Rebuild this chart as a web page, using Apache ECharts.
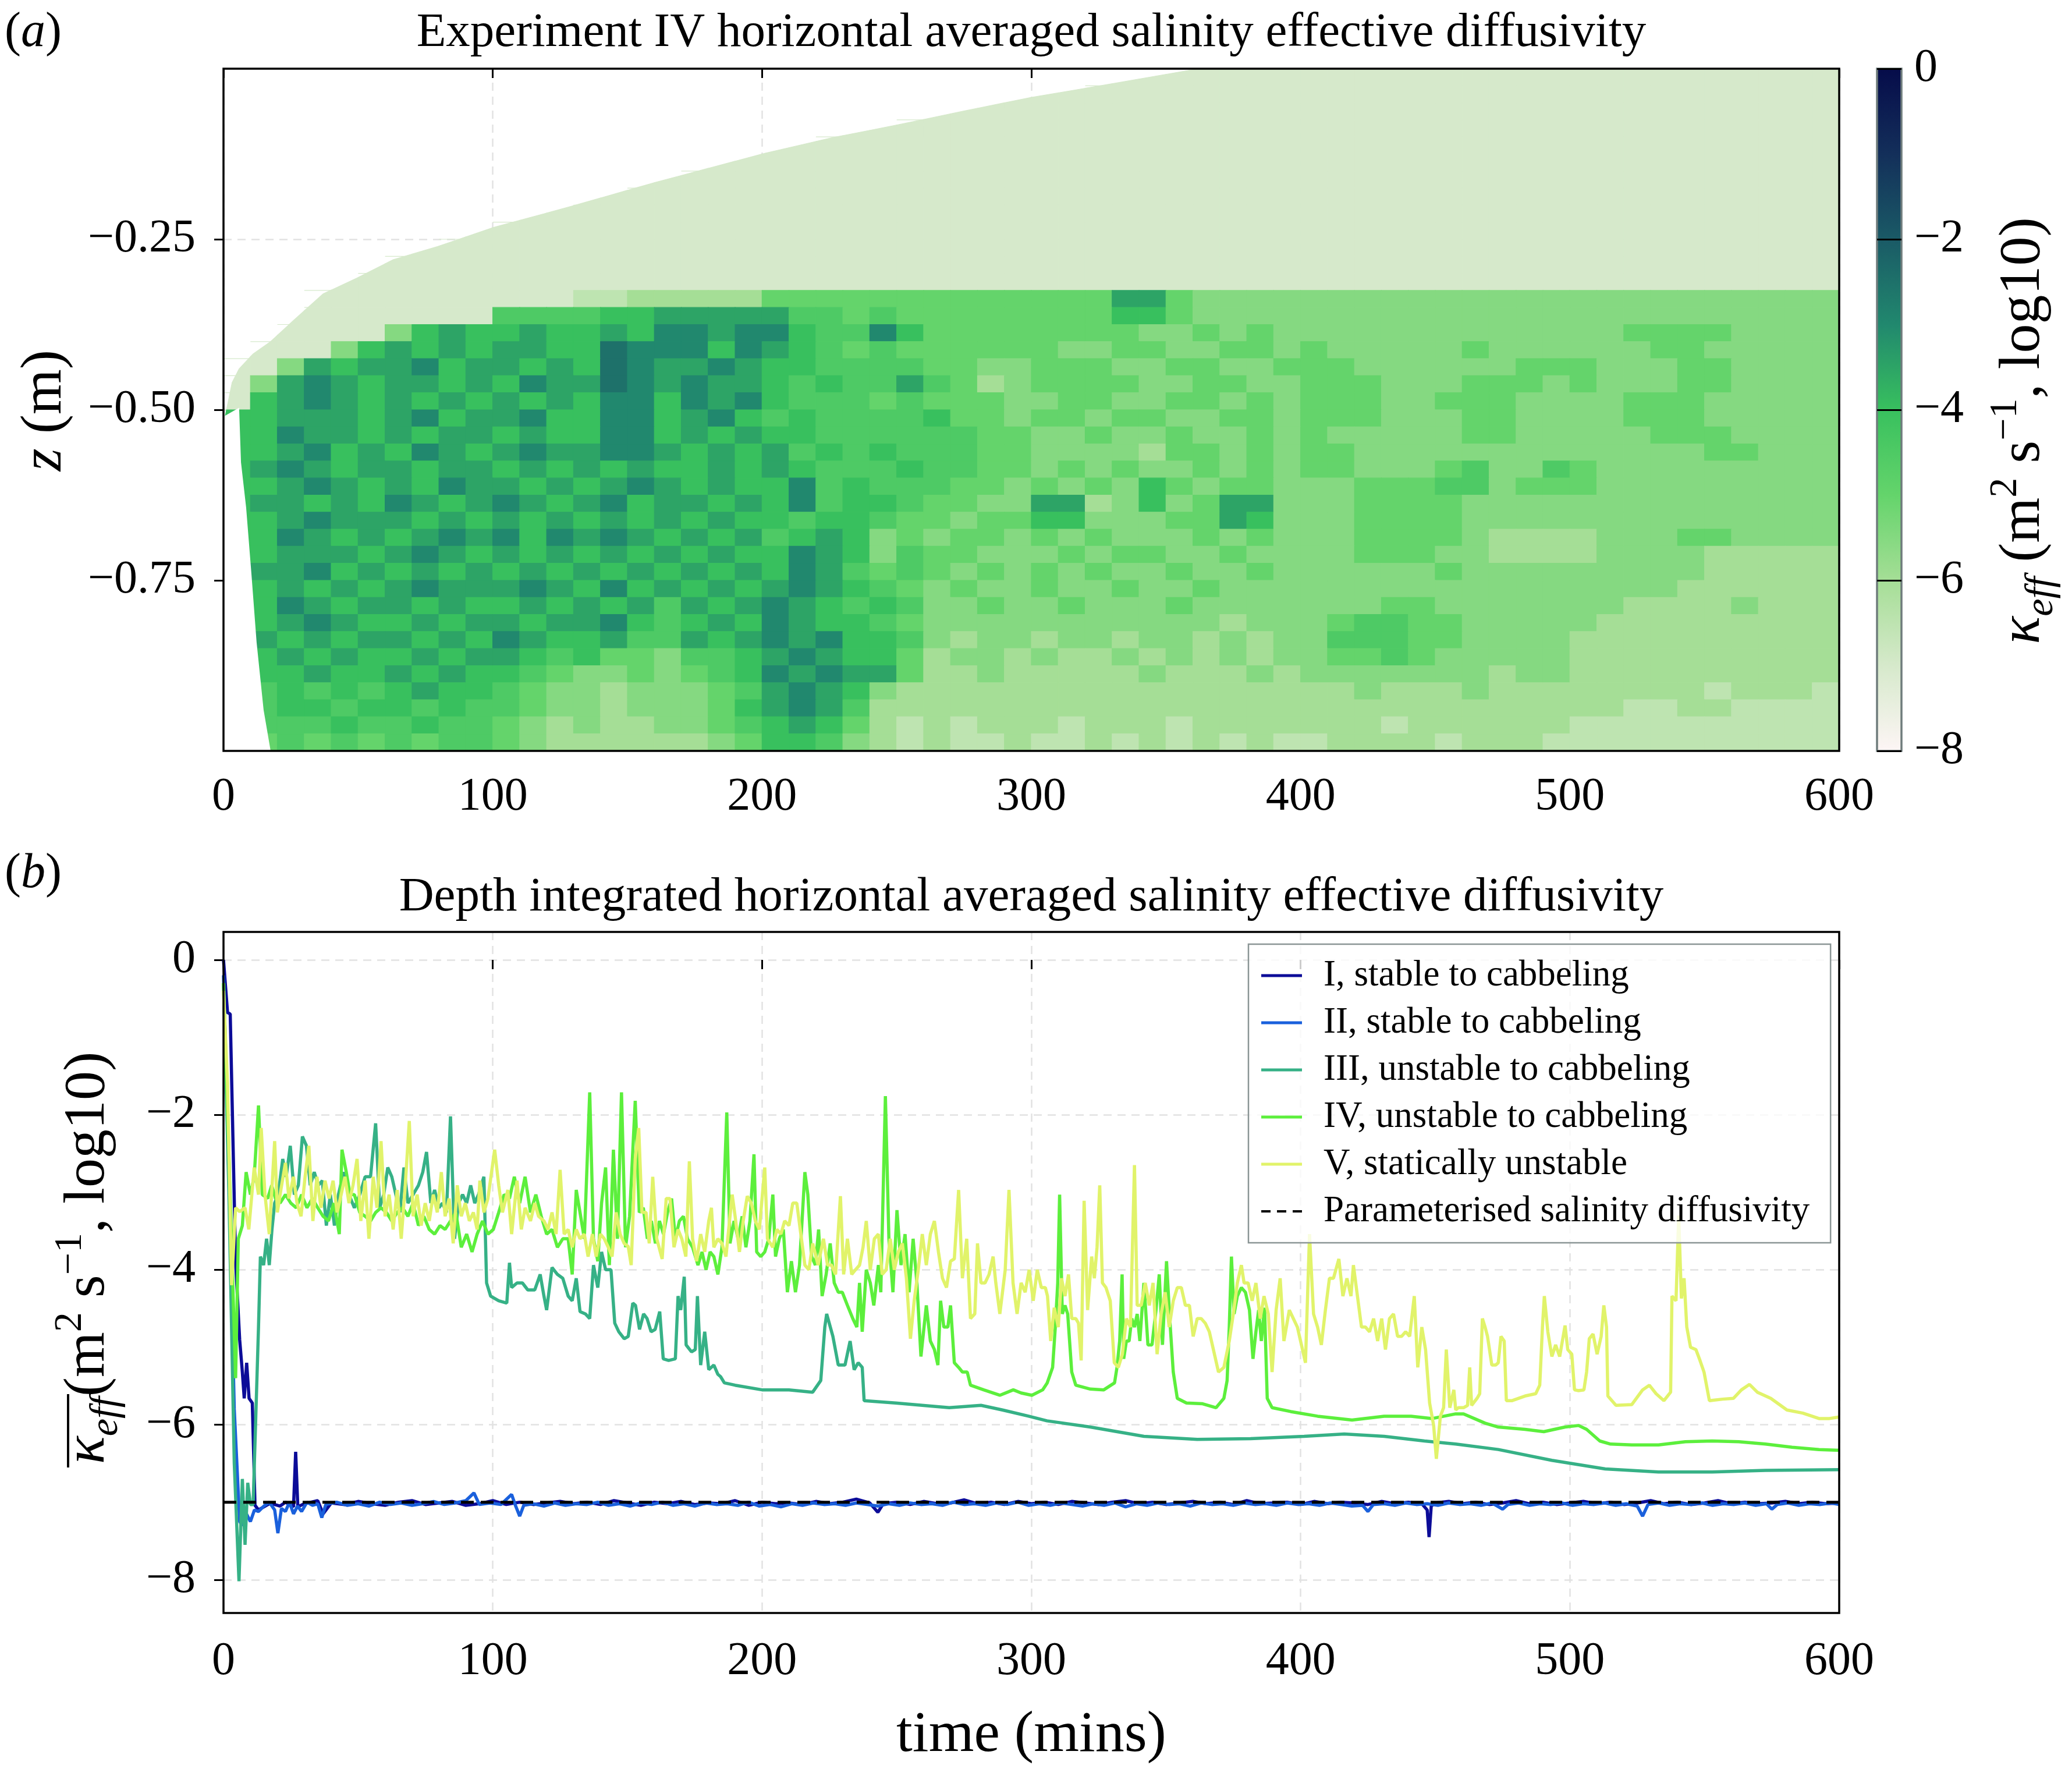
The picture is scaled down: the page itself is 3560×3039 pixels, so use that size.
<!DOCTYPE html>
<html>
<head>
<meta charset="utf-8">
<script src="https://cdn.jsdelivr.net/npm/echarts@6/dist/echarts.min.js"></script>
<style>
html, body { margin: 0; padding: 0; background: #fff; }
#container { width: 3560px; height: 3039px; }
</style>
</head>
<body>
<div id="container"></div>
<script>
// ---------- panel (a): gridded log10 effective diffusivity ----------
// each row is one depth band (0.025 m) from the surface down, each char one 10 min column
// char index in heatCodes -> value -8 + 0.5 * index
var heatT0 = 0, heatDT = 10, heatDZ = 0.025;
var heatCodes = '0123456789abcd';
var heatRows = [
  '222222222222222222222222222222222222222222222222222222222222',
  '222222222222222222222222222222222222222222222222222222222222',
  '222222222222222222222222222222222222222222222222222222222222',
  '222222222222222222222222222222222222222222222222222222222222',
  '222222222222222222222222222222222222222222222222222222222222',
  '222222222222222222222222222222222222222222222222222222222222',
  '222222222222222222222222222222222222222222222222222222222222',
  '222222222222222222222222222222222222222222222222222222222222',
  '222222222222222222222222222222222222222222222222222222222222',
  '222222222222222222222222222222222222222222222222222222222222',
  '222222222222222222222222222222222222222222222222222222222222',
  '222222222222222222222222222222222222222222222222222222222222',
  '222222222222222222222222222222222222222222222222222222222222',
  '2222222222222' + '3344' + '444' + '6666' + '66' + '666666' + '69965555' + '5555555555' + '5555555555',
  '2222222222' + '777' + '7889' + '999' + '9776' + '76' + '666666' + '68865555' + '5555555555' + '5555555555',
  '222222' + '5898' + '898' + '898a' + 'a9a' + 'a877' + 'a8' + '666666' + '66556565' + '5555555555' + '5566665555',
  '2' + '22258' + '9898' + '998' + '8baa' + 'a8a' + '9876' + '76' + '666665' + '56655665' + '6555556555' + '5556655555',
  '2' + '25989' + '9a89' + '989' + '8ba9' + '9a9' + '8877' + '77' + '665566' + '65566556' + '6655555566' + '6555665555',
  '2' + '59a98' + '9989' + '8a9' + '9ba9' + 'a99' + '8787' + '79' + '764566' + '66556655' + '6665556665' + '6555665555',
  '2' + '89a98' + '9898' + '989' + '8aa8' + 'a9a' + '8777' + '67' + '666556' + '65566565' + '6665566655' + '5566655555',
  '8' + '89998' + '9a89' + '9a8' + '8aa8' + '9a8' + '7877' + '77' + '866566' + '56655665' + '6665556655' + '5566655555',
  '8' + '8a998' + '9899' + '898' + '8aa8' + '989' + '8877' + '77' + '776655' + '65565565' + '6555556655' + '5556665555',
  '8' + '89a89' + '8a98' + '9a9' + '9aa9' + '898' + '9787' + '87' + '776655' + '55466565' + '6655555555' + '5555566555',
  '8' + '9a989' + '9899' + '898' + '9898' + '898' + '9877' + '78' + '776656' + '56556565' + '6655567557' + '6555555555',
  '8' + '89a98' + '98a9' + '989' + '89a9' + '898' + '8a78' + '77' + '766565' + '65865665' + '5566677566' + '6555555555',
  '8' + '99898' + 'a989' + 'a98' + '9a89' + '989' + '8a78' + '87' + '665599' + '45856995' + '5566665555' + '5555555555',
  '8' + '89a99' + '9898' + '989' + '8989' + '898' + '8788' + '76' + '656688' + '55566985' + '5566665555' + '5555555555',
  '8' + '8a989' + '89a9' + 'a8a' + '9a98' + '989' + '7898' + '56' + '566565' + '65556565' + '5566665444' + '4555665555',
  '8' + '89998' + '9a98' + '989' + '8989' + '898' + '8a98' + '57' + '665556' + '56655655' + '5566655444' + '4555544444',
  '8' + '99a89' + '8989' + '898' + '9898' + '989' + '8a97' + '67' + '656565' + '65565565' + '5555565555' + '5555544444',
  '8' + '89898' + '9a99' + '9a9' + '8a89' + '898' + '9a98' + '76' + '565565' + '56556555' + '5555555555' + '5555444444',
  '8' + '8a989' + '9898' + '898' + '9897' + '989' + 'a987' + '87' + '556556' + '55565555' + '5556655555' + '5544445444',
  '8' + '89a98' + '8989' + '989' + '9a87' + '898' + 'a988' + '76' + '555555' + '55555455' + '5677665555' + '5444444444',
  '8' + '98989' + '9898' + 'a98' + '8977' + '989' + 'a9a8' + '87' + '545545' + '54554545' + '5777665555' + '4444444444',
  '8' + '89898' + '8989' + '987' + '8665' + '778' + '9a98' + '86' + '455454' + '45454545' + '5667655555' + '4444444444',
  '8' + '88988' + '9898' + '876' + '5565' + '678' + 'a9a9' + '96' + '445444' + '44544454' + '5555555455' + '4444444444',
  '8' + '78787' + '8988' + '765' + '5455' + '567' + '9a98' + '54' + '444444' + '44444444' + '4454445444' + '4444434443',
  '8' + '78878' + '8787' + '765' + '5455' + '568' + '9a97' + '44' + '444444' + '44444444' + '4444444444' + '4433443333',
  '8' + '77787' + '7877' + '654' + '5445' + '567' + '8986' + '43' + '434443' + '44434444' + '4443444444' + '3333333333',
  '8' + '67676' + '7677' + '654' + '4444' + '456' + '8875' + '43' + '433433' + '43434343' + '3444434443' + '3333333333'
];
// upper edge of the mixed water (above it: no data)
var capT = [0, 0.6, 3.2, 5.8, 11, 17.5, 26, 37, 50, 63, 80, 100, 128, 160, 201, 225, 252, 275, 300, 330, 362];
var capZ = [-0.515, -0.51, -0.46, -0.44, -0.418, -0.40, -0.369, -0.33, -0.306, -0.28, -0.26, -0.233, -0.203, -0.167, -0.124, -0.102, -0.081, -0.062, -0.042, -0.022, 0];
// empty corner at the start, bottom left
var wedgeT = [0, 5.8, 6.5, 8.4, 10.4, 12.3, 14.9, 17.5, 0];
var wedgeZ = [-0.51, -0.497, -0.577, -0.643, -0.742, -0.841, -0.94, -1, -1];
var cmapColors = ['#fdf5f5', '#d6e9cb', '#a5de96', '#64d46b', '#38c05e', '#21886e', '#1a5a66', '#132f5a', '#060c4a'];
var zTicks = [-0.75, -0.5, -0.25];
var cbTicks = [0, -2, -4, -6, -8];

// ---------- panel (b): depth integrated series [time (mins), log10 kappa] ----------
var seriesNames = ['I, stable to cabbeling', 'II, stable to cabbeling', 'III, unstable to cabbeling',
  'IV, unstable to cabbeling', 'V, statically unstable'];
var seriesColors = ['#0c0c98', '#1a60dc', '#36b186', '#5cef3c', '#e1f36a'];
var paramName = 'Parameterised salinity diffusivity';
var paramLevel = -7;
var kTicks = [0, -2, -4, -6, -8];

var expI = [[0,0],[1.5,-0.68],[2.5,-0.7],[4.5,-3.9],[6,-4.9],[7,-5.32],[7.7,-5.66],[8.6,-5.2],[9.5,-5.66],[10.7,-5.72],[11.7,-7.04],[13,-7.1],[15,-7.06],[17,-7.02],[19,-7.03],[21,-7.05],[23,-7.0],[25,-7.04],[26,-7.06],[26.8,-6.35],[27.6,-7.06],[30,-7.02],[35,-6.98],[37,-7.15],[40,-7.01],[45,-7.03],[50,-6.99],[55,-7.02],[60,-7.04],[65,-7.0],[70,-6.98],[75,-7.03],[80,-7.01],[85,-6.99],[90,-7.04],[95,-7.02],[100,-6.98],[105,-7.03],[110,-7.0],[115,-7.03],[120,-7.01],[125,-6.99],[130,-7.02],[135,-7.0],[140,-7.03],[145,-6.98],[150,-7.01],[155,-7.04],[160,-7.0],[165,-7.02],[170,-6.99],[175,-7.03],[180,-7.01],[185,-7.02],[190,-6.98],[195,-7.04],[200,-7.0],[205,-7.02],[210,-7.01],[215,-7.03],[220,-6.99],[225,-7.02],[230,-7.0],[235,-6.96],[240,-7.01],[243,-7.13],[245,-7.02],[250,-7.0],[255,-7.03],[260,-6.99],[265,-7.02],[270,-7.01],[275,-6.97],[280,-7.02],[285,-7.0],[290,-7.03],[295,-6.99],[300,-7.02],[305,-7.0],[310,-7.03],[315,-6.99],[320,-7.01],[325,-7.03],[330,-7.0],[335,-6.98],[340,-7.02],[345,-7.0],[350,-7.03],[355,-7.01],[360,-6.99],[365,-7.02],[370,-7.0],[375,-7.03],[380,-6.98],[385,-7.02],[390,-7.01],[395,-7.0],[400,-7.03],[405,-6.99],[410,-7.02],[415,-7.0],[420,-7.01],[425,-7.03],[430,-6.99],[435,-7.02],[440,-7.0],[445,-7.02],[447,-7.1],[447.7,-7.45],[448.5,-7.05],[450,-7.01],[455,-6.99],[460,-7.02],[465,-7.0],[470,-7.03],[475,-7.01],[480,-6.98],[485,-7.02],[490,-7.0],[495,-7.03],[500,-7.01],[505,-6.99],[510,-7.02],[515,-7.0],[520,-7.03],[525,-7.01],[530,-6.98],[535,-7.02],[540,-7.0],[545,-7.03],[550,-7.01],[555,-6.98],[560,-7.02],[565,-7.0],[570,-7.02],[575,-7.01],[580,-6.99],[585,-7.02],[590,-7.0],[595,-7.02],[600,-7.01]];

var expII = [[0,-0.2],[2,-2.8],[4,-5.8],[6,-7.25],[7,-7.3],[8.5,-7.15],[10,-7.25],[11.5,-7.1],[13,-7.12],[15,-7.05],[17,-7.0],[19,-7.1],[20.2,-7.4],[21.5,-7.08],[23,-7.12],[24.5,-7.0],[26,-7.15],[27.5,-7.05],[29,-7.12],[31,-7.0],[33,-7.04],[35,-7.02],[36.5,-7.2],[38,-7.03],[42,-7.0],[46,-7.04],[50,-7.02],[54,-7.05],[58,-7.0],[62,-7.03],[66,-7.01],[70,-7.04],[74,-7.02],[78,-6.99],[82,-7.03],[86,-7.01],[90,-6.98],[93,-6.88],[95,-7.03],[99,-7.01],[103,-7.03],[107,-6.9],[108.5,-7.05],[110,-7.18],[111.5,-7.04],[115,-7.02],[119,-7.05],[123,-7.01],[127,-7.04],[131,-7.02],[135,-7.03],[139,-7.0],[143,-7.04],[147,-7.02],[151,-7.05],[155,-7.01],[159,-7.03],[163,-7.0],[167,-7.04],[171,-7.02],[175,-7.05],[179,-7.01],[183,-7.03],[187,-7.02],[191,-7.04],[195,-7.0],[199,-7.05],[203,-7.03],[207,-7.06],[211,-7.02],[215,-7.04],[219,-7.01],[223,-7.03],[227,-7.02],[231,-7.04],[235,-7.01],[239,-7.03],[243,-7.05],[247,-7.02],[251,-7.04],[255,-7.01],[259,-7.03],[263,-7.02],[267,-7.04],[271,-7.0],[275,-7.03],[279,-7.02],[283,-7.04],[287,-7.01],[291,-7.03],[295,-7.0],[299,-7.04],[303,-7.02],[307,-7.04],[311,-7.01],[315,-7.03],[319,-7.05],[323,-7.02],[327,-7.04],[331,-7.01],[335,-7.06],[339,-7.02],[343,-7.04],[347,-7.01],[351,-7.03],[355,-7.02],[359,-7.05],[363,-7.01],[367,-7.03],[371,-7.02],[375,-7.04],[379,-7.01],[383,-7.03],[387,-7.02],[391,-7.04],[395,-7.01],[399,-7.03],[403,-7.02],[407,-7.04],[411,-7.01],[415,-7.03],[419,-7.05],[423,-7.04],[425,-7.12],[427,-7.03],[431,-7.02],[435,-7.04],[439,-7.01],[443,-7.03],[447,-7.02],[451,-7.04],[455,-7.01],[459,-7.03],[463,-7.02],[467,-7.04],[471,-7.01],[475,-7.09],[477,-7.03],[481,-7.01],[485,-7.04],[489,-7.02],[493,-7.03],[497,-7.01],[501,-7.04],[505,-7.02],[509,-7.03],[513,-7.01],[517,-7.04],[521,-7.02],[525,-7.05],[527,-7.18],[529,-7.03],[533,-7.01],[537,-7.04],[541,-7.02],[545,-7.03],[549,-7.01],[553,-7.04],[557,-7.02],[561,-7.03],[565,-7.01],[569,-7.04],[573,-7.02],[575,-7.09],[577,-7.03],[581,-7.01],[585,-7.04],[589,-7.02],[593,-7.03],[597,-7.01],[600,-7.03]];

var expIII = [[0,-0.3],[2,-3.0],[4,-6.5],[5.75,-8.02],[7,-6.7],[8,-7.55],[9,-6.75],[10,-7.03],[11,-7.03],[12,-5.89],[13,-4.74],[13.7,-3.83],[14.9,-3.94],[16,-3.6],[17,-3.94],[18,-3.48],[19,-3.14],[20.3,-3.03],[22,-2.57],[23.3,-2.8],[24.8,-2.4],[26.3,-3.03],[27.8,-2.91],[29.3,-2.28],[30.8,-2.4],[32.2,-2.91],[33.7,-2.74],[35.2,-2.91],[36.7,-2.85],[38.2,-3.43],[39.7,-3.03],[41.2,-3.43],[42.7,-3.03],[44.6,-2.74],[46.6,-3.03],[48.6,-3.2],[50.6,-3.03],[52.6,-2.8],[54.6,-2.8],[56.5,-2.11],[58,-3.2],[59.5,-3.03],[61,-2.68],[62.5,-2.8],[64,-3.03],[65.5,-3.26],[67,-2.68],[68.5,-3.14],[70.4,-3.03],[72.4,-2.91],[74,-2.74],[75.4,-2.48],[77,-3.14],[78.4,-2.97],[80,-3.2],[81.3,-3.14],[82.8,-3.26],[84.3,-2.02],[85.8,-3.6],[87.3,-3.14],[88.8,-3.03],[90.3,-3.14],[91.8,-2.91],[93.3,-3.14],[94.7,-3.03],[96.7,-2.8],[97.7,-4.17],[99.2,-4.34],[102.2,-4.4],[105.2,-4.43],[106.2,-3.91],[107,-4.23],[109,-4.17],[111,-4.17],[113,-4.26],[115.6,-4.26],[117.6,-4.06],[119,-4.34],[120,-4.52],[122,-3.97],[124,-4.06],[126,-4.11],[128,-4.34],[129.5,-4.4],[131,-4.11],[132.4,-4.54],[134.4,-4.57],[136,-4.63],[137.4,-3.94],[139,-4.23],[140.4,-3.77],[141.9,-4.0],[143.9,-4.0],[145.3,-4.69],[146.8,-4.8],[148.8,-4.89],[150.3,-4.86],[152,-4.43],[153,-4.46],[154.5,-4.77],[156,-4.57],[157.3,-4.63],[158.8,-4.8],[160.3,-4.77],[162,-4.54],[163.3,-5.15],[165.3,-5.17],[167.8,-5.15],[168.8,-4.34],[169.8,-4.52],[171.1,-4.09],[171.8,-4.97],[173.8,-5.06],[175.2,-5.03],[176,-4.34],[177.2,-5.23],[178.7,-4.8],[180.2,-5.29],[182.1,-5.23],[183.6,-5.35],[184.6,-5.38],[186,-5.46],[190,-5.49],[200,-5.55],[210,-5.55],[218.8,-5.58],[221.8,-5.43],[223.3,-4.74],[224,-4.57],[226.3,-4.86],[228.3,-5.23],[230.8,-5.23],[232.7,-4.92],[234.2,-5.29],[235.7,-5.2],[237.2,-5.26],[237.9,-5.69],[249.6,-5.72],[259.5,-5.75],[269.5,-5.78],[281.3,-5.75],[289.3,-5.81],[299,-5.89],[305.8,-5.95],[321.9,-6.03],[341.8,-6.15],[361.6,-6.19],[381.4,-6.18],[401.3,-6.15],[416.2,-6.12],[431,-6.15],[446,-6.21],[457.6,-6.25],[473.4,-6.32],[493.3,-6.46],[513.1,-6.57],[532.9,-6.61],[552.8,-6.61],[572.6,-6.59],[600,-6.58]];

var expIV = [[0,-0.3],[2,-2.5],[4.5,-5.4],[5.5,-3.6],[7,-3.43],[8.4,-2.74],[10,-3.03],[11.4,-2.8],[13,-1.88],[14.4,-3.03],[16.4,-3.08],[17.9,-2.91],[19.3,-3.08],[21,-3.14],[23,-3.03],[25,-3.14],[27,-3.2],[29,-3.03],[31,-3.2],[33,-3.08],[35,-3.2],[37,-3.31],[39,-3.37],[41,-3.14],[43,-3.54],[44,-2.45],[45.6,-2.74],[47,-3.03],[48.6,-3.03],[50.6,-3.26],[52.6,-3.31],[54.6,-3.37],[56.5,-3.26],[58.5,-3.2],[60.5,-3.26],[62.5,-3.37],[64.5,-3.26],[66.5,-3.2],[68.5,-3.31],[70.4,-3.14],[72.4,-3.43],[74.4,-3.31],[76.4,-3.48],[78.4,-3.54],[80.4,-3.43],[82.3,-3.48],[84.3,-3.37],[86.3,-3.26],[88.3,-3.71],[90.3,-3.54],[92.3,-3.77],[94.2,-3.54],[96.2,-3.37],[98.2,-3.54],[100.2,-3.48],[102.2,-3.26],[104.2,-3.03],[106.2,-3.08],[108,-2.8],[110,-3.14],[112,-2.8],[114,-3.26],[116,-3.03],[118,-3.31],[120,-3.54],[122,-3.48],[124,-3.71],[126,-3.6],[128,-3.6],[129.5,-4.06],[131,-2.97],[132.4,-3.26],[134,-3.6],[136,-1.71],[137.4,-3.6],[139,-3.89],[140.4,-3.14],[141.9,-2.68],[143.3,-3.94],[144.8,-2.45],[146.3,-3.6],[147.8,-1.71],[149.3,-3.71],[150.8,-3.31],[152.9,-1.82],[154.4,-3.26],[155.9,-3.2],[157.4,-3.6],[158.9,-3.37],[160.4,-3.66],[161.9,-3.37],[163.4,-3.54],[164.9,-3.26],[166.4,-3.08],[167.8,-3.6],[169.3,-3.37],[170.8,-3.31],[172.3,-3.6],[174.2,-3.71],[176.2,-3.94],[177.7,-3.77],[179.2,-4.0],[180.7,-3.77],[182.1,-3.83],[183.6,-4.06],[185.1,-3.71],[186.9,-1.97],[188.1,-3.66],[189.6,-3.37],[191.1,-3.6],[192.6,-3.31],[194,-3.71],[195.5,-3.37],[197,-2.51],[198,-3.77],[199.5,-3.83],[201,-3.77],[202.5,-3.6],[204,-3.03],[205,-3.83],[206.4,-3.6],[207.9,-3.48],[209.4,-4.29],[210.9,-3.89],[212.4,-4.29],[213.9,-3.94],[215.9,-2.74],[217,-3.03],[218.4,-3.83],[219.8,-3.94],[221,-3.48],[222.3,-4.34],[223.8,-4.06],[225.3,-3.66],[226.8,-4.17],[228.3,-4.29],[229.8,-4.29],[231.7,-4.46],[233.7,-4.63],[235.2,-4.74],[236.2,-4.17],[237.2,-4.8],[238.7,-4.0],[240.2,-4.17],[241.5,-4.46],[243.2,-3.94],[244.1,-4.29],[245.8,-1.76],[247.1,-3.6],[248.6,-4.29],[250.1,-3.23],[251.6,-3.94],[253.1,-3.54],[254.6,-4.29],[256.1,-3.6],[257.5,-4.17],[259,-5.12],[261,-4.46],[262.5,-4.92],[264,-5.03],[265.3,-5.23],[266.3,-4.4],[267.5,-4.74],[269,-4.74],[270,-4.46],[271.4,-5.2],[273,-5.26],[274.4,-5.32],[276.2,-5.32],[277.4,-5.49],[282.3,-5.55],[288.3,-5.62],[293.3,-5.55],[296.2,-5.59],[300.2,-5.62],[304.2,-5.55],[305.9,-5.46],[307.9,-5.26],[308.9,-4.74],[309.8,-4.17],[310.5,-3.03],[311.5,-4.57],[312.5,-4.46],[313.5,-4.57],[315,-5.32],[316.5,-5.49],[321.9,-5.54],[326.9,-5.55],[330.9,-5.46],[331.8,-5.26],[332.8,-4.92],[333.7,-4.06],[334.3,-5.15],[335.3,-4.92],[336.3,-4.92],[337.3,-4.63],[338.3,-4.74],[339.3,-4.57],[340.3,-4.92],[341.8,-4.17],[343.3,-4.97],[344.8,-4.97],[346.3,-4.52],[347.5,-4.06],[348.7,-4.97],[350.2,-3.89],[351.4,-4.63],[352.7,-5.32],[354.2,-5.66],[357.6,-5.72],[363.6,-5.73],[368.6,-5.78],[371.5,-5.66],[372.7,-5.43],[373.5,-4.74],[374.3,-3.83],[375.3,-4.57],[376.5,-4.34],[378,-4.23],[379.5,-4.29],[381,-4.52],[382.3,-5.15],[383.4,-4.8],[384.4,-4.52],[385.4,-4.92],[386.6,-4.49],[387.6,-5.66],[389.4,-5.78],[396.3,-5.83],[406.3,-5.89],[419.1,-5.94],[431,-5.89],[441,-5.89],[448.9,-5.92],[457.6,-5.86],[460.5,-5.86],[468.5,-5.98],[473.4,-6.03],[483.3,-6.06],[490.3,-6.09],[498.2,-6.03],[503.2,-6.01],[506.2,-6.06],[511.1,-6.21],[515.1,-6.25],[523,-6.26],[532.9,-6.26],[542.9,-6.22],[552.8,-6.21],[562.7,-6.22],[572.6,-6.25],[582.5,-6.29],[592.5,-6.32],[600,-6.33]];

var expV = [[0,-0.4],[1.5,-1.6],[3,-4.2],[4.5,-3.2],[6,-3.25],[8,-3.2],[9.4,-3.48],[11.4,-2.68],[13,-3.03],[14,-2.17],[15.4,-3.03],[17,-3.54],[19,-2.34],[20,-3.26],[21.3,-2.97],[23,-2.62],[24.3,-3.08],[26,-2.8],[27.3,-3.14],[28.8,-3.31],[30.3,-2.8],[31.7,-2.4],[33.2,-3.37],[34.7,-2.8],[36.2,-3.2],[37.7,-2.85],[39.2,-3.08],[40.7,-2.85],[42.2,-3.26],[43.7,-3.03],[45.1,-2.8],[46.6,-3.14],[48.1,-2.91],[49.6,-2.57],[51,-3.37],[52.6,-2.85],[54,-3.6],[55.6,-2.8],[57,-3.2],[58.5,-2.34],[60,-3.31],[61.5,-3.03],[63,-3.48],[64.5,-2.97],[66,-3.6],[67.5,-2.91],[69,-2.08],[70.4,-3.31],[71.9,-3.03],[73.4,-3.43],[74.9,-3.14],[76.4,-3.37],[77.9,-3.03],[79.4,-3.26],[80.9,-2.74],[82.3,-3.31],[83.8,-3.08],[85.3,-3.66],[86.8,-2.91],[88.3,-3.31],[89.8,-3.14],[91.3,-3.37],[92.8,-3.26],[94.2,-3.48],[95.2,-2.85],[96.7,-3.26],[98.2,-3.08],[100.7,-2.45],[102.2,-2.91],[103.6,-3.26],[105.6,-2.97],[107,-3.54],[109,-2.85],[110.6,-3.48],[112,-3.2],[114,-3.37],[115.6,-3.14],[117,-3.31],[119,-3.37],[120.5,-3.48],[122,-3.26],[123.5,-3.54],[125,-2.71],[126.5,-3.54],[128,-3.48],[129.5,-3.71],[131,-3.48],[132.4,-3.6],[134,-3.54],[135.4,-3.83],[137,-3.54],[138.4,-3.83],[140,-3.54],[141.4,-3.6],[142.9,-3.71],[144.3,-3.83],[145.8,-3.26],[147.3,-3.54],[148.8,-3.66],[150.3,-3.7],[151.4,-3.94],[152.9,-2.57],[154.2,-2.17],[155.4,-3.26],[156.9,-3.26],[158.1,-3.66],[159.4,-2.8],[160.9,-3.6],[162.9,-3.86],[164.4,-3.08],[165.8,-3.08],[167.3,-3.71],[168.8,-3.48],[170.2,-3.6],[171.7,-3.83],[173,-2.6],[174.2,-3.6],[175.7,-3.89],[177.2,-3.54],[178.7,-3.77],[180.2,-3.37],[181.2,-3.2],[182.1,-3.71],[183.6,-3.6],[185.1,-3.66],[186.6,-3.83],[187.6,-3.48],[188.9,-3.03],[190,-3.31],[191.6,-3.77],[193,-3.37],[194.5,-3.05],[196,-3.14],[197.5,-3.37],[199,-3.48],[201,-2.68],[202,-3.6],[204,-3.71],[205.5,-3.48],[207,-3.54],[208.4,-3.37],[210,-3.43],[211.4,-3.14],[212.9,-3.14],[214.4,-3.54],[215.9,-3.94],[217.4,-4.0],[218.8,-3.66],[220.8,-3.94],[222.8,-3.6],[224.3,-3.94],[225.8,-3.94],[227.3,-4.06],[229.1,-3.05],[230.3,-4.06],[231.7,-3.6],[233.3,-4.06],[234.7,-4.0],[236.2,-3.94],[237.5,-3.71],[238.7,-3.37],[240.2,-4.0],[241.7,-3.6],[243.2,-3.54],[244.6,-4.06],[246.1,-4.0],[247.6,-3.6],[249.1,-4.0],[250.6,-3.77],[252.1,-3.66],[253.6,-4.11],[255.1,-4.89],[256.5,-4.4],[258,-4.0],[259.5,-3.54],[261,-3.94],[262.5,-3.54],[264,-3.37],[265.5,-3.77],[267,-4.11],[268.5,-4.23],[270,-3.89],[271.4,-3.86],[273,-2.97],[274.4,-4.11],[276,-3.6],[277.4,-4.63],[279,-4.57],[280,-3.66],[281.3,-4.17],[282.8,-4.17],[284.3,-4.06],[285.8,-3.83],[286.8,-4.17],[288.3,-4.57],[290.3,-4.0],[291.7,-2.97],[293.2,-4.17],[294.7,-4.57],[296.2,-4.17],[297.7,-4.29],[299.2,-4.0],[300.7,-4.4],[302.2,-4.0],[303.7,-4.23],[305.2,-4.23],[306,-4.34],[307.2,-4.92],[308.5,-4.49],[310,-4.74],[311.2,-4.11],[312.5,-4.34],[313.8,-4.06],[315,-4.63],[316.5,-4.63],[317.5,-4.69],[318.5,-5.17],[319.6,-3.11],[320.9,-4.52],[322.4,-3.83],[323.4,-4.11],[324.4,-3.71],[325.4,-2.91],[326.4,-4.17],[327.7,-4.23],[329.3,-4.4],[330.8,-5.2],[332.3,-5.26],[333.8,-5.09],[335.3,-4.63],[336.8,-4.74],[338.3,-2.65],[339.3,-4.46],[340.8,-4.46],[342.3,-4.17],[343.8,-4.46],[345.2,-4.17],[346.7,-5.09],[348.2,-4.57],[349.7,-4.29],[351.2,-4.74],[352.7,-4.4],[354.2,-4.23],[355.7,-4.23],[357.2,-4.46],[358.7,-4.46],[360.1,-4.86],[361.6,-4.63],[363.1,-4.63],[364.6,-4.69],[366.1,-4.8],[367.6,-5.03],[369.5,-5.32],[371.5,-5.26],[373.5,-4.92],[375,-4.57],[376.5,-4.17],[378,-3.94],[379,-4.17],[380.5,-4.17],[382,-4.4],[383.4,-4.17],[385,-4.63],[386.4,-4.34],[388,-4.57],[389.4,-5.32],[390.9,-4.52],[392.4,-4.11],[393.8,-4.92],[395.8,-4.52],[397.3,-4.63],[398.8,-4.74],[400.3,-4.97],[401.8,-5.2],[403.3,-3.54],[404.8,-4.57],[406.3,-4.74],[407.7,-4.97],[409.2,-4.52],[410.7,-4.11],[412.2,-4.11],[414.2,-3.86],[415.7,-4.34],[417.2,-4.11],[418.7,-4.34],[419.6,-3.94],[421.1,-4.34],[422.6,-4.74],[424.1,-4.74],[425.6,-4.8],[427.1,-4.63],[428.6,-4.92],[430.1,-4.63],[431.5,-5.03],[433,-4.63],[434.5,-4.57],[436,-4.86],[437.5,-4.86],[439,-4.8],[440.5,-4.86],[442.2,-4.34],[443.5,-5.26],[445,-4.74],[446.4,-5.03],[447.9,-5.72],[449.4,-6.01],[450.4,-6.44],[451.9,-5.89],[453.1,-5.78],[454.1,-5.03],[455.4,-5.78],[456.9,-5.55],[457.6,-5.81],[458.6,-5.78],[460.5,-5.78],[462,-5.75],[462.8,-5.26],[463.5,-5.75],[465.5,-5.66],[466.5,-5.6],[467.5,-4.63],[468.5,-4.74],[469.4,-4.86],[471,-5.23],[472.4,-5.23],[473.4,-5.2],[474.4,-4.86],[475.6,-4.92],[476.4,-5.69],[478.4,-5.69],[483.3,-5.63],[487.3,-5.6],[488.8,-5.49],[489.8,-4.74],[490.5,-4.34],[491.8,-4.8],[493.3,-5.12],[494.7,-4.97],[496.2,-5.12],[497.2,-4.92],[498.2,-4.72],[499.2,-5.03],[500.7,-5.09],[501.7,-5.55],[503.2,-5.56],[505.2,-5.55],[506.2,-5.32],[507.2,-4.89],[508.6,-4.83],[510.1,-5.09],[511.6,-4.86],[512.6,-4.46],[513.6,-4.74],[514.1,-5.63],[517.1,-5.75],[523,-5.74],[527,-5.55],[529.5,-5.49],[532,-5.6],[534.9,-5.69],[537.4,-5.58],[537.9,-4.34],[539.4,-4.4],[540.4,-3.3],[541.4,-4.37],[542.4,-4.11],[543.4,-4.74],[544.8,-5.0],[546.8,-5.03],[548.3,-5.17],[549.8,-5.32],[551.8,-5.69],[556.7,-5.67],[560.7,-5.66],[563.7,-5.55],[566.7,-5.48],[569.6,-5.58],[574.6,-5.66],[580.6,-5.81],[586.5,-5.85],[592.5,-5.92],[596.4,-5.92],[600,-5.9]];

var expSeries = [expI, expII, expIII, expIV, expV];

// ---------- helpers ----------
var FONT = 'Liberation Serif';
function fmtMinus(v, dec) {
  var s = Math.abs(v).toFixed(dec);
  return (v < 0 ? '\u2212' : '') + s;
}

var heatData = [];
heatRows.forEach(function (row, i) {
  for (var j = 0; j < row.length; j++) {
    heatData.push([heatT0 + j * heatDT, -i * heatDZ, -8 + 0.5 * heatCodes.indexOf(row.charAt(j))]);
  }
});

function capAt(t) {
  if (t <= capT[0]) return capZ[0];
  for (var k = 1; k < capT.length; k++) {
    if (t <= capT[k]) {
      var f = (t - capT[k - 1]) / (capT[k] - capT[k - 1]);
      return capZ[k - 1] + f * (capZ[k] - capZ[k - 1]);
    }
  }
  return capZ[capZ.length - 1];
}

// top outline of a cell, cut by the upper edge of the data
function cellTop(t0, t1, zb, zt) {
  var ts = [t0, t1];
  capT.forEach(function (t) { if (t > t0 && t < t1) ts.push(t); });
  ts.sort(function (a, b) { return a - b; });
  var extra = [];
  for (var k = 0; k < ts.length - 1; k++) {
    var a = ts[k], b = ts[k + 1], fa = capAt(a), fb = capAt(b);
    [zt, zb].forEach(function (lvl) {
      if ((fa - lvl) * (fb - lvl) < 0) extra.push(a + (lvl - fa) * (b - a) / (fb - fa));
    });
  }
  ts = ts.concat(extra).sort(function (a, b) { return a - b; });
  return ts.map(function (t) { return [t, Math.max(zb, Math.min(zt, capAt(t)))]; });
}

function renderCell(params, api) {
  var t0 = api.value(0), zt = api.value(1);
  var t1 = t0 + heatDT, zb = zt - heatDZ;
  var top = cellTop(t0, t1, zb, zt);
  var open = top.some(function (p) { return p[1] > zb + 1e-9; });
  if (!open) return null;
  var pts = [api.coord([t0, zb]), api.coord([t1, zb])];
  for (var k = top.length - 1; k >= 0; k--) pts.push(api.coord(top[k]));
  var c = api.visual('color');
  return { type: 'polygon', shape: { points: pts }, style: { fill: c, stroke: c, lineWidth: 1.2 } };
}

function renderWedge(params, api) {
  var pts = wedgeT.map(function (t, k) { return api.coord([t, wedgeZ[k]]); });
  return { type: 'polygon', shape: { points: pts }, style: { fill: '#ffffff' } };
}

function renderColorbar(params, api) {
  var p0 = api.coord([0, 0]);
  var p1 = api.coord([1, -8]);
  var stops = cmapColors.map(function (c, k) {
    return { offset: 1 - k / (cmapColors.length - 1), color: c };
  }).reverse();
  return {
    type: 'rect',
    shape: { x: p0[0], y: p0[1], width: p1[0] - p0[0], height: p1[1] - p0[1] },
    style: { fill: new echarts.graphic.LinearGradient(0, 0, 0, 1, stops) }
  };
}

var tickLabel = { fontFamily: FONT, fontSize: 80, color: '#000' };
var gridLine = { show: true, lineStyle: { color: '#e2e2e2', width: 2.5, type: [14, 10] } };
var tickStyle = { show: true, inside: false, length: 16, lineStyle: { color: '#000', width: 3 } };

var lineSeries = expSeries.map(function (d, k) {
  return {
    type: 'line', name: seriesNames[k], xAxisIndex: 1, yAxisIndex: 1, data: d,
    symbol: 'none', showSymbol: false, silent: true, animation: false,
    lineStyle: { color: seriesColors[k], width: 5.5 }, itemStyle: { color: seriesColors[k] }
  };
});
lineSeries.push({
  type: 'line', name: paramName, xAxisIndex: 1, yAxisIndex: 1,
  data: [[0, paramLevel], [600, paramLevel]],
  symbol: 'none', showSymbol: false, silent: true, animation: false,
  lineStyle: { color: '#000', width: 5, type: [22, 12] }, itemStyle: { color: '#000' }
});

var legendData = seriesNames.map(function (n) { return { name: n, icon: 'rect' }; });
legendData.push({ name: paramName, icon: 'path://M0,0H16V4H0Z M27,0H43V4H27Z M54,0H70V4H54Z' });

var chart = echarts.init(document.getElementById('container'));

chart.setOption({
  animation: false,
  textStyle: { fontFamily: FONT },
  grid: [
    { left: 384, right: 400, top: 118, bottom: 1749, show: true, z: 10, backgroundColor: 'transparent', borderColor: '#000', borderWidth: 3.5 },
    { left: 384, right: 400, top: 1601, bottom: 268, show: true, z: 10, backgroundColor: 'transparent', borderColor: '#000', borderWidth: 3.5 },
    { left: 3225, right: 293, top: 118, bottom: 1749, show: true, z: 10, backgroundColor: 'transparent', borderColor: '#6f7c7c', borderWidth: 3.5 }
  ],
  visualMap: {
    type: 'continuous', show: false, seriesIndex: 0, dimension: 2, min: -8, max: 0,
    inRange: { color: cmapColors }
  },
  xAxis: [
    { gridIndex: 0, type: 'value', min: 0, max: 600, interval: 100,
      axisLine: { show: false }, axisTick: tickStyle, axisLabel: Object.assign({ margin: 40 }, tickLabel),
      splitLine: gridLine },
    { gridIndex: 1, type: 'value', min: 0, max: 600, interval: 100,
      axisLine: { show: false }, axisTick: tickStyle, axisLabel: Object.assign({ margin: 44 }, tickLabel),
      splitLine: gridLine },
    { gridIndex: 2, type: 'value', min: 0, max: 1, show: false }
  ],
  yAxis: [
    { gridIndex: 0, type: 'value', min: -1, max: 0, interval: 0.25,
      axisLine: { show: false },
      axisTick: Object.assign({ customValues: zTicks }, tickStyle),
      axisLabel: Object.assign({ margin: 48, customValues: zTicks, formatter: function (v) { return fmtMinus(v, 2); } }, tickLabel),
      splitLine: gridLine },
    { gridIndex: 1, type: 'value', min: -8.43, max: 0.36,
      axisLine: { show: false },
      axisTick: Object.assign({ customValues: kTicks }, tickStyle),
      axisLabel: Object.assign({ margin: 48, customValues: kTicks, formatter: function (v) { return fmtMinus(v, 0); } }, tickLabel),
      splitLine: gridLine },
    { gridIndex: 2, type: 'value', min: -8, max: 0, interval: 2, position: 'right', z: 12,
      axisLine: { show: false }, axisTick: { show: false },
      axisLabel: Object.assign({ margin: 22, formatter: function (v) { return fmtMinus(v, 0); } }, tickLabel),
      splitLine: { show: true, lineStyle: { color: '#000', width: 3 } } }
  ],
  legend: {
    left: 2145, top: 1622, orient: 'vertical', selectedMode: false,
    itemWidth: 70, itemHeight: 5, itemGap: 17,
    padding: [22, 36, 22, 22],
    backgroundColor: 'rgba(255,255,255,0.8)', borderColor: '#8a9595', borderWidth: 2.5,
    itemStyle: { borderWidth: 0 },
    textStyle: { fontFamily: FONT, fontSize: 63, color: '#000', lineHeight: 64, padding: [0, 0, 0, 32] },
    data: legendData
  },
  series: [
    { type: 'custom', name: 'kappa', xAxisIndex: 0, yAxisIndex: 0, data: heatData, clip: true,
      silent: true, animation: false, renderItem: renderCell, encode: { x: 0, y: 1 } },
    { type: 'custom', name: 'empty', xAxisIndex: 0, yAxisIndex: 0, data: [[0, -1]], clip: true,
      silent: true, animation: false, renderItem: renderWedge, encode: { x: 0, y: 1 } },
    { type: 'custom', name: 'colorbar', xAxisIndex: 2, yAxisIndex: 2, data: [[0, 0]],
      silent: true, animation: false, renderItem: renderColorbar, encode: { x: 0, y: 1 } }
  ].concat(lineSeries),
  graphic: [
    { type: 'text', x: 1772, y: 57, style: { text: 'Experiment IV horizontal averaged salinity effective diffusivity',
      fontFamily: FONT, fontSize: 83, fill: '#000', align: 'center', verticalAlign: 'middle' } },
    { type: 'text', x: 1772, y: 1542, style: { text: 'Depth integrated horizontal averaged salinity effective diffusivity',
      fontFamily: FONT, fontSize: 83, fill: '#000', align: 'center', verticalAlign: 'middle' } },
    { type: 'text', x: 8, y: 57, style: { text: '({i|a})', fontFamily: FONT, fontSize: 84, fill: '#000',
      align: 'left', verticalAlign: 'middle', rich: { i: { fontFamily: FONT, fontSize: 84, fontStyle: 'italic', fill: '#000' } } } },
    { type: 'text', x: 8, y: 1502, style: { text: '({i|b})', fontFamily: FONT, fontSize: 84, fill: '#000',
      align: 'left', verticalAlign: 'middle', rich: { i: { fontFamily: FONT, fontSize: 84, fontStyle: 'italic', fill: '#000' } } } },
    { type: 'text', x: 1772, y: 2982, style: { text: 'time (mins)', fontFamily: FONT, fontSize: 100, fill: '#000',
      align: 'center', verticalAlign: 'middle' } },
    { type: 'text', x: 78, y: 705, rotation: Math.PI / 2, style: { text: '{i|z} (m)', fontFamily: FONT, fontSize: 100, fill: '#000',
      align: 'center', verticalAlign: 'middle', rich: { i: { fontFamily: FONT, fontSize: 100, fontStyle: 'italic', fill: '#000' } } } },
    { type: 'text', x: 152, y: 2161, rotation: Math.PI / 2, style: {
      text: '{k|\u03ba}{s|eff}{n|(m}{p|2}{n| s}{p|\u22121}{n|, log10)}',
      align: 'center', verticalAlign: 'middle',
      rich: {
        k: { fontFamily: FONT, fontSize: 100, fontStyle: 'italic', lineHeight: 130, fill: '#000' },
        s: { fontFamily: FONT, fontSize: 68, fontStyle: 'italic', lineHeight: 68, verticalAlign: 'bottom', fill: '#000' },
        n: { fontFamily: FONT, fontSize: 100, lineHeight: 130, fill: '#000' },
        p: { fontFamily: FONT, fontSize: 68, lineHeight: 68, verticalAlign: 'top', fill: '#000' }
      } } },
    { type: 'line', shape: { x1: 117, y1: 2395, x2: 117, y2: 2521 }, style: { stroke: '#000', lineWidth: 4 } },
    { type: 'text', x: 3477, y: 740, rotation: Math.PI / 2, style: {
      text: '{k|\u03ba}{s|eff}{n| (m}{p|2}{n| s}{p|\u22121}{n|, log10)}',
      align: 'center', verticalAlign: 'middle',
      rich: {
        k: { fontFamily: FONT, fontSize: 100, fontStyle: 'italic', lineHeight: 130, fill: '#000' },
        s: { fontFamily: FONT, fontSize: 68, fontStyle: 'italic', lineHeight: 68, verticalAlign: 'bottom', fill: '#000' },
        n: { fontFamily: FONT, fontSize: 100, lineHeight: 130, fill: '#000' },
        p: { fontFamily: FONT, fontSize: 68, lineHeight: 68, verticalAlign: 'top', fill: '#000' }
      } } }
  ]
});
</script>
</body>
</html>
